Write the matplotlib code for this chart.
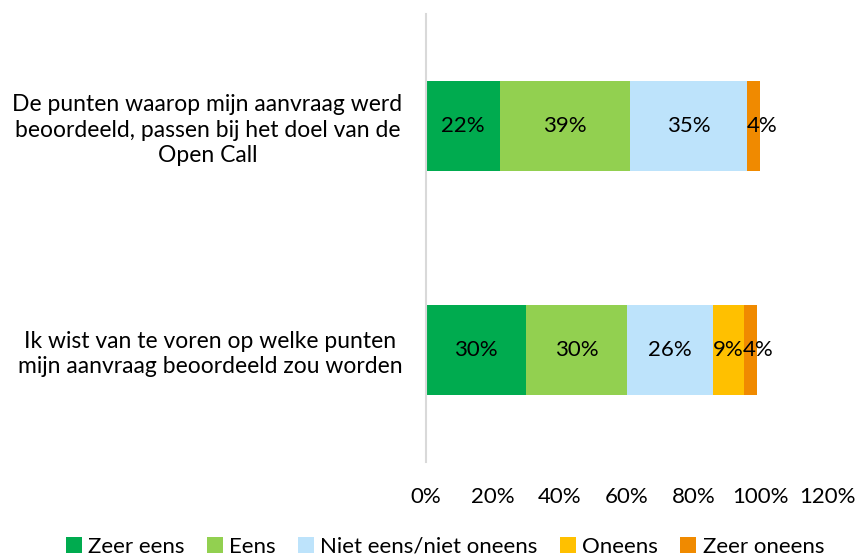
import numpy as np
import matplotlib.pyplot as plt

plt.rcParams['font.family'] = ['Lato', 'DejaVu Sans']

# Stellingen (van boven naar beneden)
vragen = ["De punten waarop mijn aanvraag werd\nbeoordeeld, passen bij het doel van de\nOpen Call",
          "Ik wist van te voren op welke punten\nmijn aanvraag beoordeeld zou worden"]
antwoorden = ["Zeer eens", "Eens", "Niet eens/niet oneens", "Oneens", "Zeer oneens"]
zeer_eens = [22, 30]
eens = [39, 30]
neutraal = [35, 26]
oneens = [0, 9]
zeer_oneens = [4, 4]
kleuren = ["#00AB4F", "#92D050", "#BDE3FB", "#FFC000", "#F08A00"]
xticks = [0, 20, 40, 60, 80, 100, 120]

reeksen = [zeer_eens, eens, neutraal, oneens, zeer_oneens]

fig = plt.figure(figsize=(8.56, 5.58), dpi=100)
ax = fig.add_axes([0.4977, 0.172, 0.4685, 0.803])

y = np.arange(len(vragen))
links = np.zeros(len(vragen))
for waarden, kleur, naam in zip(reeksen, kleuren, antwoorden):
    waarden = np.array(waarden, dtype=float)
    bars = ax.barh(y, waarden, left=links, height=0.4, color=kleur, label=naam)
    for b, w in zip(bars, waarden):
        if w > 0:
            # smalle segmenten: label iets naar rechts, zoals in Excel
            dx = 6 if w < 5 else 0
            ax.annotate(f"{w:.0f}%", (b.get_x() + b.get_width() / 2, b.get_y() + b.get_height() / 2),
                        xytext=(dx, 0), textcoords="offset points",
                        ha="center", va="center", fontsize=16, color="black")
    links += waarden

ax.set_xlim(0, 120)
ax.set_ylim(-0.5, 1.5)
ax.invert_yaxis()
ax.set_xticks(xticks)
ax.set_xticklabels([f"{t}%" for t in xticks], fontsize=16)
ax.set_yticks(y)
ax.set_yticklabels(vragen, fontsize=16.5, multialignment="center", linespacing=1.25)
ax.tick_params(axis="x", length=0, pad=18)
ax.tick_params(axis="y", length=0, pad=17)
for s in ["top", "right", "bottom"]:
    ax.spines[s].set_visible(False)
ax.spines["left"].set_color("#D9D9D9")
ax.spines["left"].set_linewidth(1.5)

fig.legend(loc="center", bbox_to_anchor=(0.52, 0.02), ncol=5, frameon=False,
           fontsize=16, handlelength=0.7, handleheight=0.7, handletextpad=0.3,
           columnspacing=1.0)

fig.savefig("out.png", dpi=100)
